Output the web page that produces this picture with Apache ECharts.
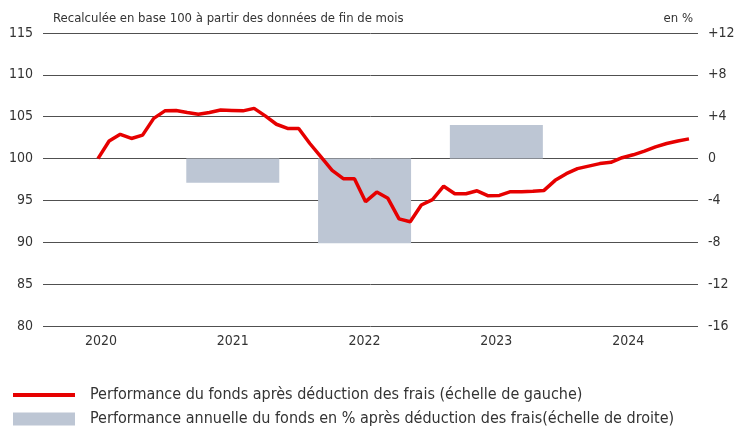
<!DOCTYPE html>
<html>
<head>
<meta charset="utf-8">
<script src="https://cdn.jsdelivr.net/npm/echarts@6/dist/echarts.min.js"></script>
<style>
  html, body { margin: 0; padding: 0; background: #fff; }
  #chart { width: 734px; height: 428px; }
</style>
</head>
<body>
<div id="chart"></div>
<script>
// month-end index values, base 100 (first point = end of 2019)
const fundIndex = [
  100, 102.1, 102.9, 102.4, 102.8, 104.8, 105.7, 105.75, 105.5, 105.3, 105.5, 105.8,
  105.75, 105.7, 106.0, 105.1, 104.1, 103.6, 103.6, 101.8, 100.2, 98.6, 97.6, 97.6,
  94.85, 96.0, 95.25, 92.8, 92.45, 94.45, 95.1, 96.7, 95.8, 95.8, 96.15, 95.55,
  95.6, 96.05, 96.05, 96.1, 96.2, 97.4, 98.2, 98.8, 99.1, 99.4, 99.55, 100.1,
  100.45, 100.9, 101.4, 101.8, 102.1, 102.35
];
const years = [2020, 2021, 2022, 2023, 2024];
const barYears = [2021, 2022, 2023];
const annualPerf = [-2.3, -8.1, 3.2];
const leftTicks = [80, 115, 5];
const rightTicks = [-16, 12, 4];

const lineName = 'Performance du fonds après déduction des frais (échelle de gauche)';
const barName = 'Performance annuelle du fonds en % après déduction des frais(échelle de droite)';
const font = "'Liberation Sans Narrow', 'DejaVu Sans Condensed', sans-serif";

const myChart = echarts.init(document.getElementById('chart'));
myChart.setOption({
  animation: false,
  textStyle: { fontFamily: font },
  title: [
    {
      text: 'Recalculée en base 100 à partir des données de fin de mois',
      left: 53, top: 12, padding: 0,
      textStyle: { fontSize: 13, fontWeight: 'normal', color: '#333', fontFamily: font }
    },
    {
      text: 'en %',
      right: 41, top: 12, padding: 0,
      textStyle: { fontSize: 13, fontWeight: 'normal', color: '#333', fontFamily: font }
    }
  ],
  grid: { left: 43, right: 36, top: 33, bottom: 102, outerBoundsMode: 'none' },
  legend: [
    {
      data: [{ name: lineName, icon: 'rect' }],
      left: 8, top: 382,
      itemWidth: 62, itemHeight: 4,
      textStyle: { fontSize: 16, color: '#333', padding: [0, 0, 0, 10], fontFamily: font }
    },
    {
      data: [{ name: barName, icon: 'rect' }],
      left: 8, top: 406,
      itemWidth: 62, itemHeight: 13,
      textStyle: { fontSize: 16, color: '#333', padding: [0, 0, 0, 10], fontFamily: font }
    }
  ],
  xAxis: [
    {
      type: 'value',
      min: -4.93, max: 53.81,
      show: false
    },
    {
      type: 'value',
      min: 2019.56, max: 2024.53,
      position: 'bottom',
      axisLine: { show: false },
      axisTick: { show: false },
      splitLine: { show: false },
      axisLabel: {
        customValues: years,
        formatter: v => String(Math.round(v)),
        fontSize: 14, color: '#333', margin: 8
      }
    }
  ],
  yAxis: [
    {
      type: 'value',
      min: leftTicks[0], max: leftTicks[1], interval: leftTicks[2],
      axisLine: { show: false },
      axisTick: { show: false },
      axisLabel: { fontSize: 14, color: '#333', margin: 10 },
      splitLine: { lineStyle: { color: '#505050', width: 1 } }
    },
    {
      type: 'value',
      min: rightTicks[0], max: rightTicks[1], interval: rightTicks[2],
      axisLine: { show: false },
      axisTick: { show: false },
      splitLine: { show: false },
      axisLabel: {
        fontSize: 14, color: '#333', margin: 10,
        formatter: v => (v > 0 ? '+' + v : String(v))
      }
    }
  ],
  series: [
    {
      name: barName,
      type: 'bar',
      xAxisIndex: 1,
      yAxisIndex: 1,
      barWidth: 93,
      itemStyle: { color: '#bdc6d4' },
      data: barYears.map((y, i) => [y, annualPerf[i]])
    },
    {
      name: lineName,
      type: 'line',
      xAxisIndex: 0,
      yAxisIndex: 0,
      symbol: 'none',
      z: 5,
      lineStyle: { color: '#e60000', width: 3.5 },
      itemStyle: { color: '#e60000' },
      data: fundIndex.map((v, i) => [i, v])
    }
  ]
});
</script>
</body>
</html>
